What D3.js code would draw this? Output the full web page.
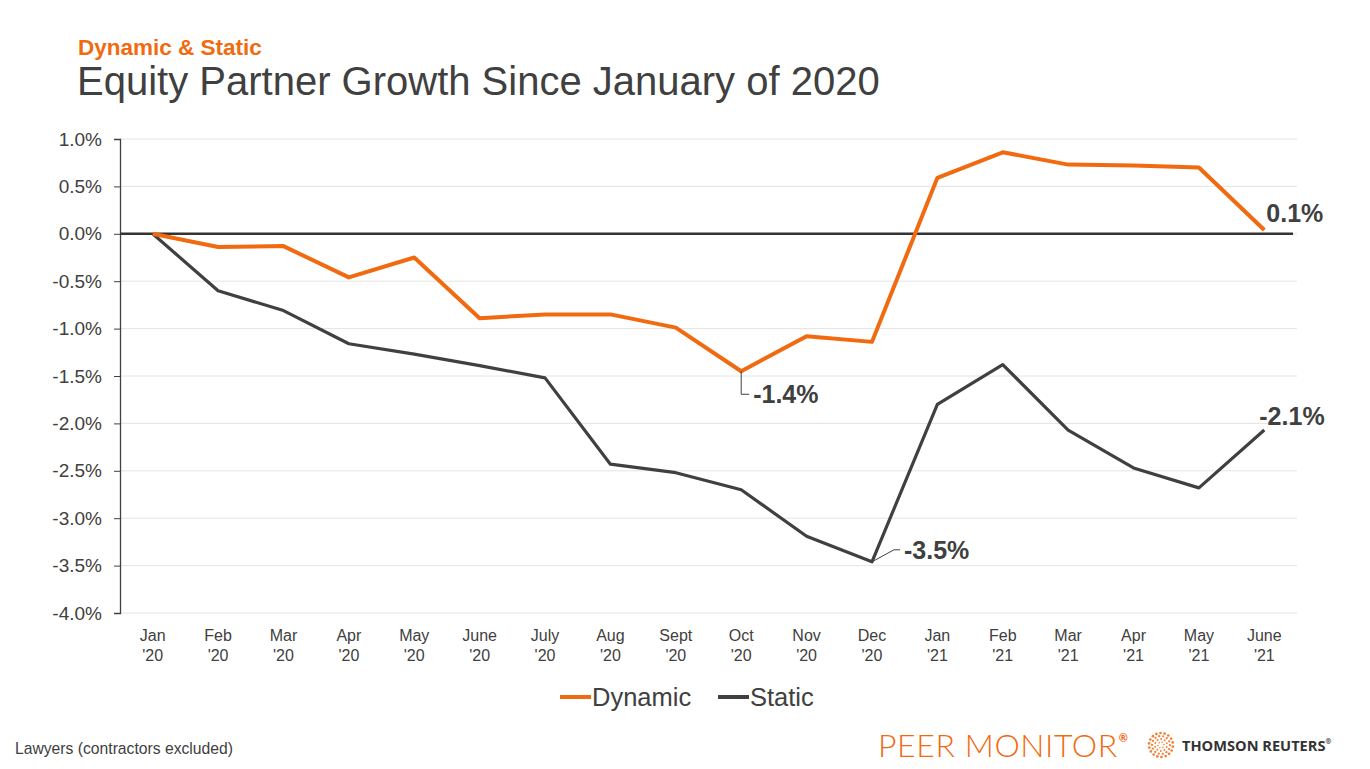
<!DOCTYPE html>
<html>
<head>
<meta charset="utf-8">
<script src="https://cdn.jsdelivr.net/npm/d3@7"></script>
<style>
  body { margin: 0; background: #fff; }
  svg { font-family: "Liberation Sans", Arial, sans-serif; }
</style>
</head>
<body>
<svg id="canvas"></svg>
<script>
const months = ["Jan '20", "Feb '20", "Mar '20", "Apr '20", "May '20", "June '20", "July '20", "Aug '20", "Sept '20",
                "Oct '20", "Nov '20", "Dec '20", "Jan '21", "Feb '21", "Mar '21", "Apr '21", "May '21", "June '21"]
const dynamicVals = [0, -0.14, -0.13, -0.46, -0.25, -0.89, -0.85, -0.85, -0.99,
                     -1.45, -1.08, -1.14, 0.59, 0.86, 0.73, 0.72, 0.70, 0.04]
const staticVals = [0, -0.60, -0.81, -1.16, -1.27, -1.39, -1.52, -2.43, -2.52,
                    -2.70, -3.19, -3.46, -1.80, -1.38, -2.07, -2.47, -2.68, -2.07]
const yTicks = [1.0, 0.5, 0, -0.5, -1.0, -1.5, -2.0, -2.5, -3.0, -3.5, -4.0]

const width = 1370
const height = 769
const orange = '#f26a10'
const dark = '#404040'

let svg = d3.select('#canvas').attr('width', width).attr('height', height)

let xScale = d3.scaleBand().domain(months).range([120, 1297])
let yScale = d3.scaleLinear().domain([-4, 1]).range([613, 139])
let cx = (m) => xScale(m) + xScale.bandwidth() / 2

// titles
svg.append('text').attr('x', 78).attr('y', 55)
    .attr('fill', orange).attr('font-size', 22.5).attr('font-weight', 'bold')
    .text('Dynamic & Static')
svg.append('text').attr('x', 77).attr('y', 95)
    .attr('fill', dark).attr('font-size', 40)
    .text('Equity Partner Growth Since January of 2020')

// gridlines
svg.append('g').selectAll('line')
    .data(yTicks)
    .enter()
    .append('line')
    .attr('x1', 120).attr('x2', 1297)
    .attr('y1', (d) => yScale(d)).attr('y2', (d) => yScale(d))
    .attr('stroke', '#e4e4e4').attr('stroke-width', 1)

// y axis
let yAxis = d3.axisLeft(yScale)
    .tickValues(yTicks)
    .tickSize(6)
    .tickPadding(12)
    .tickFormat((d) => d3.format('.1f')(d) + '%')
let gy = svg.append('g')
    .attr('transform', 'translate(120,0)')
    .call(yAxis)
gy.select('.domain').attr('stroke', dark).attr('stroke-width', 1.3)
gy.selectAll('.tick line').attr('stroke', dark)
gy.selectAll('.tick text')
    .attr('fill', dark).attr('font-size', 19)
    .attr('font-family', '"Liberation Sans", Arial, sans-serif')
    .text((d) => (d < 0 ? '-' : '') + d3.format('.1f')(Math.abs(d)) + '%')

// x labels
let xl = svg.append('g').selectAll('text')
    .data(months)
    .enter()
    .append('text')
    .attr('text-anchor', 'middle')
    .attr('fill', dark).attr('font-size', 16)
xl.append('tspan').attr('x', cx).attr('y', 641).text((d) => d.split(' ')[0])
xl.append('tspan').attr('x', cx).attr('y', 661).text((d) => d.split(' ')[1])

// zero line
svg.append('line')
    .attr('x1', 120).attr('x2', 1293)
    .attr('y1', yScale(0)).attr('y2', yScale(0))
    .attr('stroke', '#333').attr('stroke-width', 2.5)

let line = d3.line()
    .x((d, i) => cx(months[i]))
    .y((d) => yScale(d))

svg.append('path').datum(staticVals)
    .attr('d', line).attr('fill', 'none')
    .attr('stroke', dark).attr('stroke-width', 3.2)
    .attr('stroke-linejoin', 'round')

svg.append('path').datum(dynamicVals)
    .attr('d', line).attr('fill', 'none')
    .attr('stroke', orange).attr('stroke-width', 4)
    .attr('stroke-linejoin', 'round')

// data labels
let lbl = (x, y, t) => svg.append('text').attr('x', x).attr('y', y)
    .attr('fill', dark).attr('font-size', 25).attr('font-weight', 'bold').text(t)

let oct = cx(months[9])
svg.append('path')
    .attr('d', `M${oct},${yScale(dynamicVals[9])} V${yScale(dynamicVals[9]) + 23} H${oct + 8}`)
    .attr('fill', 'none').attr('stroke', dark).attr('stroke-width', 1)
lbl(oct + 12, yScale(dynamicVals[9]) + 32, '-1.4%')

let dec = cx(months[11])
svg.append('path')
    .attr('d', `M${dec},${yScale(staticVals[11])} L${dec + 22},${yScale(staticVals[11]) - 12} H${dec + 28}`)
    .attr('fill', 'none').attr('stroke', dark).attr('stroke-width', 1)
lbl(dec + 32, yScale(staticVals[11]) - 3, '-3.5%')

let jun = cx(months[17])
lbl(jun + 2, yScale(dynamicVals[17]) - 8, '0.1%')
lbl(jun - 5, yScale(staticVals[17]) - 5, '-2.1%')

// legend
let legend = [['Dynamic', orange, 560], ['Static', dark, 718]]
legend.forEach((l) => {
    svg.append('line').attr('x1', l[2]).attr('x2', l[2] + 31)
        .attr('y1', 697).attr('y2', 697)
        .attr('stroke', l[1]).attr('stroke-width', 4)
    svg.append('text').attr('x', l[2] + 32).attr('y', 706)
        .attr('fill', dark).attr('font-size', 25.5).text(l[0])
})

// footer
svg.append('text').attr('x', 15).attr('y', 754)
    .attr('fill', dark).attr('font-size', 15.7).text('Lawyers (contractors excluded)')

let pm = svg.append('text').attr('x', 878).attr('y', 757)
    .attr('fill', orange).attr('font-size', 32).attr('font-weight', 300)
    .attr('font-family', 'Lato, "Open Sans", sans-serif')
    .attr('letter-spacing', 0.6)
    .text('PEER MONITOR')
pm.append('tspan').attr('font-size', 11).attr('font-weight', 'bold').attr('dy', -15).attr('dx', 1).text('®')

// dotted circle logo
let logo = svg.append('g').attr('transform', 'translate(1161,745)')
const rings = [[3, 6], [6, 10], [9, 14], [12, 18]]
rings.forEach((r) => {
    for (let k = 0; k < r[1]; k++) {
        let a = k / r[1] * Math.PI * 2 + r[0]
        logo.append('circle')
            .attr('cx', Math.cos(a) * r[0]).attr('cy', Math.sin(a) * r[0])
            .attr('r', 0.6 + r[0] * 0.06)
            .attr('fill', orange).attr('opacity', 0.85)
    }
})

let tr = svg.append('text').attr('x', 1182).attr('y', 751)
    .attr('fill', '#333').attr('font-size', 14.6).attr('font-weight', 'bold')
    .attr('font-family', '"Open Sans", "Liberation Sans", sans-serif')
    .text('THOMSON REUTERS')
tr.append('tspan').attr('font-size', 7).attr('dy', -7).text('®')
</script>
</body>
</html>
